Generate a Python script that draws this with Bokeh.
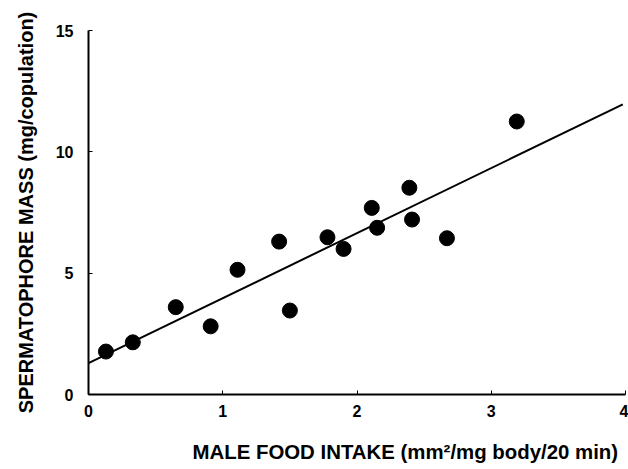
from bokeh.plotting import figure
from bokeh.models import Range1d, FixedTicker, Title
from bokeh.embed import file_html
from bokeh.resources import INLINE

# Data
food_intake = [0.13, 0.33, 0.65, 0.91, 1.11, 1.42, 1.50, 1.78, 1.90, 2.11, 2.15, 2.39, 2.41, 2.67, 3.19]
spermatophore_mass = [1.77, 2.15, 3.6, 2.81, 5.14, 6.3, 3.46, 6.48, 6.0, 7.69, 6.87, 8.52, 7.21, 6.44, 11.25]

# Regression line
fit_intercept = 1.29
fit_slope = 2.68
fit_x = [0.0, 3.98]
fit_y = [fit_intercept + fit_slope * x for x in fit_x]

x_ticks = [0, 1, 2, 3, 4]
y_ticks = [0, 5, 10, 15]

x_label = "MALE FOOD INTAKE (mm²/mg body/20 min)"
y_label = "SPERMATOPHORE MASS (mg/copulation)"

FONT = "Liberation Sans"

p = figure(width=628, height=469, x_range=Range1d(0, 4), y_range=Range1d(0, 15),
           output_backend="svg", toolbar_location=None,
           min_border_left=88, min_border_right=3, min_border_top=30, min_border_bottom=75)
p.outline_line_color = None
p.grid.visible = False
p.background_fill_color = "white"
p.border_fill_color = "white"

p.line(fit_x, fit_y, line_color="black", line_width=2)
p.scatter(food_intake, spermatophore_mass, size=15, fill_color="black", line_color="black")

for ax in (p.xaxis[0], p.yaxis[0]):
    ax.axis_line_color = "black"
    ax.axis_line_width = 2
    ax.major_tick_in = 4
    ax.major_tick_out = 0
    ax.major_tick_line_color = "black"
    ax.minor_tick_line_color = None
    ax.major_label_text_font = FONT
    ax.major_label_text_font_style = "bold"
    ax.major_label_text_font_size = "16px"
    ax.major_label_text_color = "black"
    ax.axis_label_text_font = FONT
    ax.axis_label_text_font_style = "bold"
    ax.axis_label_text_font_size = "20px"
    ax.axis_label_text_color = "black"

p.xaxis.ticker = FixedTicker(ticks=x_ticks)
p.yaxis.ticker = FixedTicker(ticks=y_ticks)
p.yaxis.axis_label = y_label
p.xaxis.major_label_standoff = 10
p.yaxis.major_label_standoff = 15
p.yaxis.axis_label_standoff = 16

# blank spacer between the tick labels and the x-axis title
p.add_layout(Title(text=" ", standoff=0, text_font_size="15px"), "below")
p.add_layout(Title(text=x_label, align="left", offset=104, standoff=0,
                   text_font=FONT, text_font_style="bold", text_font_size="20.4px",
                   text_color="black"), "below")

open("out.html", "w").write(file_html(p, INLINE))
